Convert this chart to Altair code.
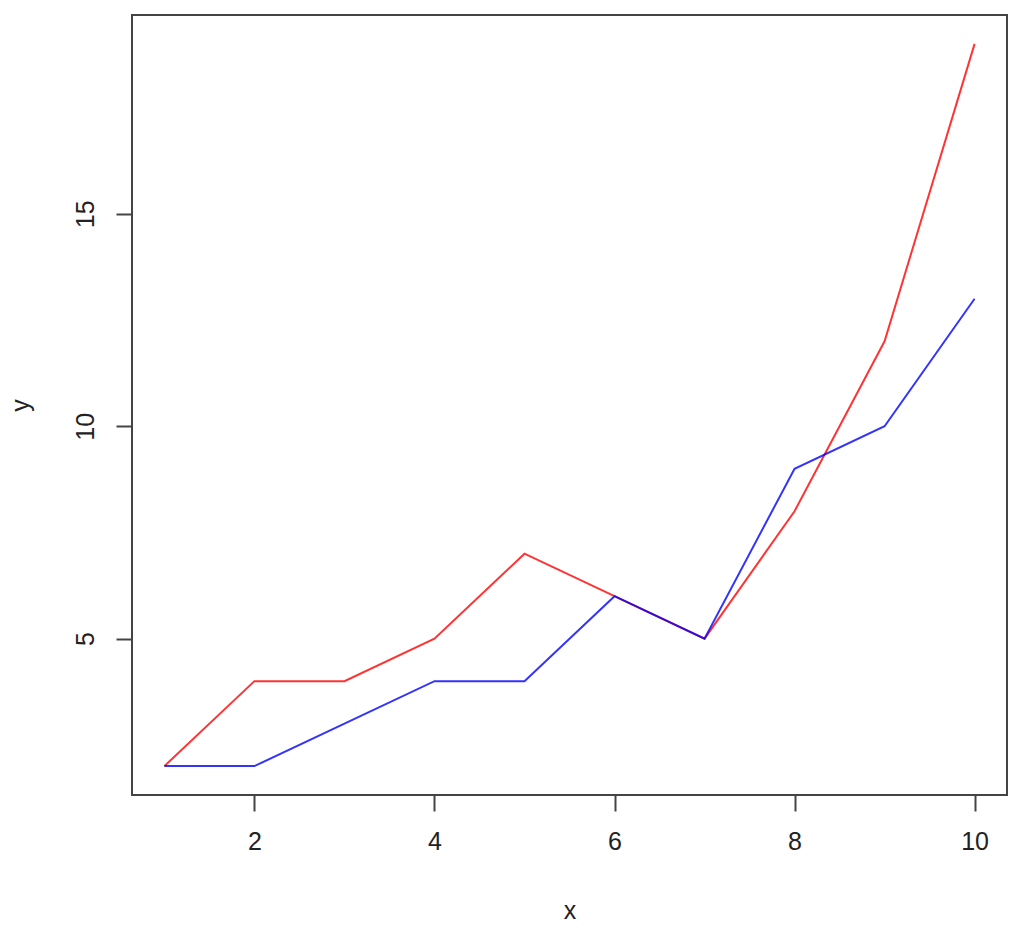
import altair as alt
import pandas as pd

x_vals = [1, 2, 3, 4, 5, 6, 7, 8, 9, 10]
red_y = [2, 4, 4, 5, 7, 6, 5, 8, 12, 19]
blue_y = [2, 2, 3, 4, 4, 6, 5, 9, 10, 13]

df = pd.DataFrame({
    "x": x_vals * 2,
    "y": red_y + blue_y,
    "series": ["red"] * 10 + ["blue"] * 10,
})

FONT = "Liberation Sans"

xscale = alt.Scale(domain=[0.64, 10.36], nice=False, zero=False)
yscale = alt.Scale(domain=[1.32, 19.68], nice=False, zero=False)

chart = alt.Chart(df).mark_line(strokeWidth=2, opacity=0.8).encode(
    x=alt.X("x:Q", scale=xscale,
            axis=alt.Axis(values=[2, 4, 6, 8, 10], title="x", grid=False, domain=False,
                          tickSize=16, tickWidth=2, tickColor="#444",
                          labelFontSize=25, labelFont=FONT, labelColor="#222", labelPadding=18,
                          titleFontSize=25, titleFont=FONT, titleFontWeight="normal",
                          titleColor="#222", titlePadding=44)),
    y=alt.Y("y:Q", scale=yscale,
            axis=alt.Axis(values=[5, 10, 15], title="y", grid=False, domain=False,
                          tickSize=16, tickWidth=2, tickColor="#444",
                          labelFontSize=25, labelFont=FONT, labelColor="#222", labelAngle=270,
                          labelAlign="center", labelBaseline="bottom", labelPadding=18,
                          titleFontSize=25, titleFont=FONT, titleFontWeight="normal",
                          titleColor="#222", titlePadding=40)),
    color=alt.Color("series:N", scale=alt.Scale(domain=["red", "blue"], range=["#ff0000", "#0000ff"]), legend=None),
    detail="series:N",
).properties(
    width=875, height=780,
    padding={"left": 124, "top": 7, "right": 5, "bottom": 130},
    autosize=alt.AutoSizeParams(type="none"),
).configure_view(stroke="#444", strokeWidth=2)

chart.save("out.html", embed_options={"renderer": "svg", "actions": False})
